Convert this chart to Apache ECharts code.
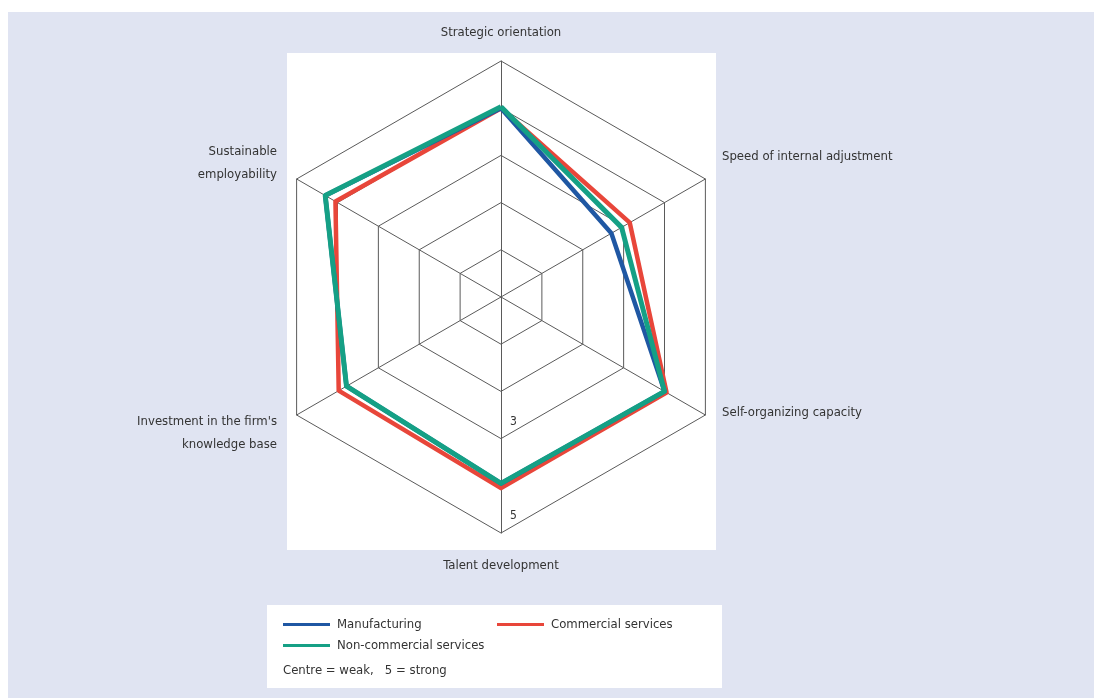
<!DOCTYPE html>
<html>
<head>
<meta charset="utf-8">
<script src="https://cdn.jsdelivr.net/npm/echarts@6/dist/echarts.min.js"></script>
<style>
  html, body { margin: 0; padding: 0; background: #fff; }
  #main { width: 1094px; height: 698px; }
</style>
</head>
<body>
<div id="main"></div>
<script type="text/javascript">
    // axes, counter-clockwise from the top
    var indicators = ['Strategic orientation', 'Sustainable employability', "Investment in the firm's knowledge base",
        'Talent development', 'Self-organizing capacity', 'Speed of internal adjustment'];
    var manufacturing = [4.0, 4.3, 3.78, 3.95, 4.0, 2.7];
    var commercial = [4.0, 4.05, 3.97, 4.05, 4.05, 3.15];
    var nonCommercial = [4.03, 4.3, 3.78, 3.95, 4.0, 2.95];
    var shownTicks = [3, 5];
    var scaleMax = 5;

    var font = '"Liberation Sans Narrow", "DejaVu Sans Condensed", sans-serif';
    var cx = 501, cy = 297, R = 236;

    // axis names, placed by hand like in the original figure
    var names = [
        { text: 'Strategic orientation', x: 501, y: 33, align: 'center' },
        { text: 'Sustainable\nemployability', x: 277, y: 163, align: 'right' },
        { text: "Investment in the firm's\nknowledge base", x: 277, y: 433, align: 'right' },
        { text: 'Talent development', x: 501, y: 566, align: 'center' },
        { text: 'Self-organizing capacity', x: 722, y: 413, align: 'left' },
        { text: 'Speed of internal adjustment', x: 722, y: 157, align: 'left' }
    ];

    var graphics = [
        { type: 'rect', z: -30, shape: { x: 8, y: 12, width: 1086, height: 686 }, style: { fill: '#e0e4f2' } },
        { type: 'rect', z: -20, shape: { x: 287, y: 53, width: 429, height: 497 }, style: { fill: '#fff' } },
        { type: 'rect', z: -20, shape: { x: 267, y: 605, width: 455, height: 83 }, style: { fill: '#fff' } },
        { type: 'text', z: 5, left: 283, top: 664,
          style: { text: 'Centre = weak,   5 = strong', font: '13px ' + font, fill: '#333' } }
    ];
    names.forEach(function (n) {
        graphics.push({ type: 'text', z: 5, x: n.x, y: n.y,
            style: { text: n.text, font: '13px ' + font, fill: '#333', lineHeight: 23,
                     align: n.align, verticalAlign: 'middle' } });
    });
    // tick values on the lower axis, just above their ring
    shownTicks.forEach(function (v) {
        graphics.push({ type: 'text', z: 5, x: cx + 9, y: cy + R * v / scaleMax - 17,
            style: { text: String(v), font: '12px ' + font, fill: '#333', align: 'left', verticalAlign: 'middle' } });
    });

    var myChart = echarts.init(document.getElementById('main'));
    var option = {
        backgroundColor: '#fff',
        textStyle: { fontFamily: font },
        graphic: graphics,
        legend: [{
            orient: 'vertical',
            left: 278, top: 613,
            itemWidth: 47, itemHeight: 3, itemGap: 8,
            icon: 'rect',
            textStyle: { fontSize: 13, color: '#333', padding: [0, 0, 0, 2] },
            data: ['Manufacturing', 'Non-commercial services']
        }, {
            orient: 'vertical',
            left: 492, top: 613,
            itemWidth: 47, itemHeight: 3,
            icon: 'rect',
            textStyle: { fontSize: 13, color: '#333', padding: [0, 0, 0, 2] },
            data: ['Commercial services']
        }],
        radar: {
            center: [cx, cy],
            radius: R,
            startAngle: 90,
            splitNumber: 5,
            shape: 'polygon',
            indicator: indicators.map(function (n) {
                return { name: n, min: 0, max: scaleMax };
            }),
            axisName: { show: false },
            axisLine: { lineStyle: { color: '#5a5a5a', width: 1 } },
            splitLine: { lineStyle: { color: '#5a5a5a', width: 1 } },
            splitArea: { show: false },
            axisTick: { show: false },
            axisLabel: { show: false }
        },
        series: [{
            type: 'radar',
            symbol: 'none',
            silent: true,
            data: [
                { name: 'Commercial services', value: commercial,
                  lineStyle: { color: '#e8463a', width: 4.5 }, itemStyle: { color: '#e8463a' } },
                { name: 'Manufacturing', value: manufacturing,
                  lineStyle: { color: '#1f57a3', width: 4.5 }, itemStyle: { color: '#1f57a3' } },
                { name: 'Non-commercial services', value: nonCommercial,
                  lineStyle: { color: '#15a085', width: 5 }, itemStyle: { color: '#15a085' } }
            ]
        }]
    };
    myChart.setOption(option);
</script>
</body>
</html>
